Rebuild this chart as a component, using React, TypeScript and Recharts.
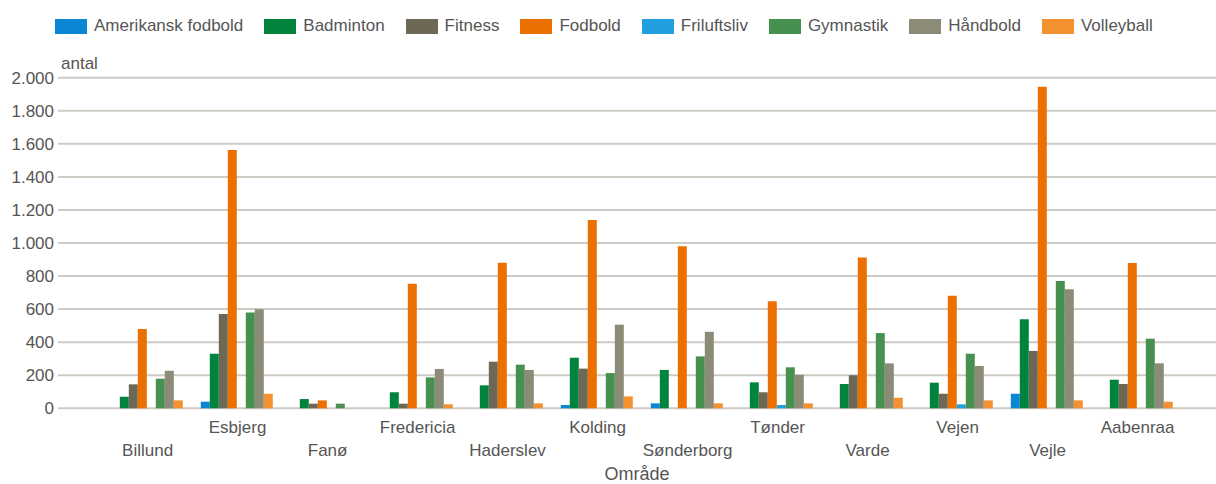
import React from 'react';
import { BarChart, Bar, XAxis, YAxis, CartesianGrid, Legend, Label } from 'recharts';

const categories = ['Billund', 'Esbjerg', 'Fanø', 'Fredericia', 'Haderslev', 'Kolding', 'Sønderborg', 'Tønder', 'Varde', 'Vejen', 'Vejle', 'Aabenraa'];
const amerikanskFodbold = [0, 40, 0, 0, 0, 20, 30, 0, 0, 0, 88, 0];
const badminton = [70, 330, 56, 97, 139, 306, 232, 157, 147, 155, 538, 173];
const fitness = [145, 570, 28, 28, 282, 240, 0, 97, 200, 88, 347, 147];
const fodbold = [480, 1562, 48, 754, 880, 1139, 981, 647, 912, 681, 1945, 879];
const friluftsliv = [0, 0, 0, 0, 0, 0, 0, 20, 0, 24, 0, 0];
const gymnastik = [179, 580, 28, 187, 264, 213, 314, 248, 455, 330, 770, 421];
const haandbold = [227, 599, 0, 238, 232, 506, 463, 203, 272, 256, 720, 272];
const volleyball = [48, 88, 0, 24, 30, 72, 30, 30, 64, 48, 48, 40];
const yTicks = [0, 200, 400, 600, 800, 1000, 1200, 1400, 1600, 1800, 2000];

const series = [
  { key: 'amerikansk', name: 'Amerikansk fodbold', values: amerikanskFodbold, color: '#0a87d4' },
  { key: 'badminton', name: 'Badminton', values: badminton, color: '#00843d' },
  { key: 'fitness', name: 'Fitness', values: fitness, color: '#6d6855' },
  { key: 'fodbold', name: 'Fodbold', values: fodbold, color: '#ec7000' },
  { key: 'friluftsliv', name: 'Friluftsliv', values: friluftsliv, color: '#1f9fdd' },
  { key: 'gymnastik', name: 'Gymnastik', values: gymnastik, color: '#46914f' },
  { key: 'haandbold', name: 'Håndbold', values: haandbold, color: '#8b8b77' },
  { key: 'volleyball', name: 'Volleyball', values: volleyball, color: '#f39130' },
];

const data = categories.map((c, i) => {
  const row: Record<string, any> = { omraade: c };
  series.forEach((s) => { row[s.key] = s.values[i]; });
  return row;
});

const FONT = '"Liberation Sans", Arial, sans-serif';
const TEXT = '#555555';

const fmt = (v: number) => String(v).replace(/\B(?=(\d{3})+(?!\d))/g, '.');

const XTick = (props: any) => {
  const { x, y, payload, index } = props;
  const dy = index % 2 === 1 ? 24.4 : 47.4;
  return (
    <text x={x} y={y + dy} textAnchor="middle" fill={TEXT} fontSize={17} fontFamily={FONT}>
      {payload.value}
    </text>
  );
};

const YTick = (props: any) => {
  const { x, y, payload } = props;
  return (
    <text x={x} y={y} dy="0.36em" textAnchor="end" fill={TEXT} fontSize={17} fontFamily={FONT}>
      {fmt(payload.value)}
    </text>
  );
};

const LegendContent = (props: any) => {
  const { payload } = props;
  return (
    <div style={{ display: 'flex', alignItems: 'center', fontFamily: FONT, fontSize: 17, color: TEXT, paddingLeft: 55, whiteSpace: 'nowrap' }}>
      {(payload || []).map((p: any) => (
        <div key={p.value} style={{ display: 'flex', alignItems: 'center', marginRight: 21 }}>
          <div style={{ width: 32, height: 15, background: p.color, marginRight: 7 }} />
          <span>{p.value}</span>
        </div>
      ))}
    </div>
  );
};

export default function App() {
  return (
    <div style={{ position: 'absolute', left: 0, top: 0, width: 1216, height: 484, background: '#fff' }}>
      <BarChart
        width={1216}
        height={484}
        data={data}
        margin={{ top: 77.7, right: 0, bottom: 0, left: 0 }}
        barCategoryGap={8.2}
        barGap={0}
      >
        <CartesianGrid vertical={false} stroke="#cfcbc4" strokeWidth={2} />
        <XAxis
          dataKey="omraade"
          interval={0}
          height={75.7}
          tickSize={0}
          tickMargin={0}
          axisLine={false}
          tickLine={false}
          tick={<XTick />}
          padding={{ left: 44.6, right: 33.4 }}
        >
          <Label
            content={(p: any) => {
              const vb = p.viewBox;
              return (
                <text x={vb.x + vb.width / 2} y={vb.y + 71.5} textAnchor="middle" fill={TEXT} fontSize={18} fontFamily={FONT}>
                  Område
                </text>
              );
            }}
          />
        </XAxis>
        <YAxis
          width={58}
          domain={[0, 2000]}
          ticks={yTicks}
          interval={0}
          tickSize={0}
          tickMargin={4}
          axisLine={false}
          tickLine={false}
          tick={<YTick />}
        >
          <Label
            content={(p: any) => {
              const vb = p.viewBox;
              return (
                <text x={vb.x + vb.width + 3} y={vb.y - 9} textAnchor="start" fill={TEXT} fontSize={17} fontFamily={FONT}>
                  antal
                </text>
              );
            }}
          />
        </YAxis>
        <Legend
          layout="horizontal"
          verticalAlign="middle"
          align="center"
          wrapperStyle={{ top: 16, left: 0, width: 1216 }}
          content={<LegendContent />}
        />
        {series.map((s) => (
          <Bar key={s.key} dataKey={s.key} name={s.name} fill={s.color} isAnimationActive={false} />
        ))}
      </BarChart>
    </div>
  );
}
